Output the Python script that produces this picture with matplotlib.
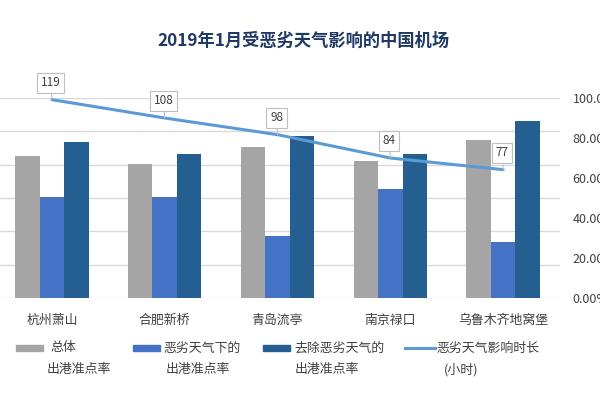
import matplotlib
matplotlib.use("Agg")
import matplotlib.pyplot as plt
from matplotlib.patches import Rectangle
from matplotlib.lines import Line2D
import numpy as np

plt.rcParams['font.family'] = ['Noto Sans CJK SC', 'DejaVu Sans']

airports = ['杭州萧山', '合肥新桥', '青岛流亭', '南京禄口', '乌鲁木齐地窝堡']
overall = [71.2, 66.8, 75.7, 68.7, 79.2]          # 总体出港准点率 %
bad_weather = [50.5, 50.5, 31.0, 54.5, 28.2]      # 恶劣天气下的出港准点率 %
excl_bad = [78.2, 71.8, 81.0, 71.8, 88.3]         # 去除恶劣天气的出港准点率 %
hours = [119, 108, 98, 84, 77]                    # 恶劣天气影响时长 (小时)
pct_ticks = [0, 20, 40, 60, 80, 100]
hour_ticks = [0, 20, 40, 60, 80, 100, 120]

legend_lines = [('总体', '出港准点率'), ('恶劣天气下的', '出港准点率'),
                ('去除恶劣天气的', '出港准点率'), ('恶劣天气影响时长', '(小时)')]
colors = ['#A5A5A5', '#4472C4', '#255E91']
line_color = '#5B9BD5'
text_color = '#404040'

W, H = 600, 400
rect = [-4.5 / W, 102 / H, 564 / W, 200 / H]
fig = plt.figure(figsize=(6, 4), dpi=100)

# background axes: gridlines of the (hidden) hours axis
ax_bg = fig.add_axes(rect)
ax_bg.set_ylim(0, 120)
ax_bg.set_yticks(hour_ticks)
ax_bg.set_xticks([])
ax_bg.tick_params(axis='y', length=0, labelleft=False)
ax_bg.grid(axis='y', color='#D9D9D9', lw=1)
for s in ax_bg.spines.values():
    s.set_visible(False)

# bars on the percent axis
ax = fig.add_axes(rect)
ax.patch.set_visible(False)
x = np.arange(len(airports))
w = 0.217
for k, vals in enumerate([overall, bad_weather, excl_bad]):
    ax.bar(x + (k - 1) * w, vals, w, color=colors[k], zorder=2)
ax.set_ylim(0, 100)
ax.set_xlim(-0.5, len(airports) - 0.5)
for s in ax.spines.values():
    s.set_visible(False)

# line on the hours axis, above the bars
ax2 = ax.twinx()
ax2.plot(x, hours, color=line_color, lw=2.2, zorder=3, solid_capstyle='round')
ax2.set_ylim(0, 120)
ax2.set_yticks([])
for s in ax2.spines.values():
    s.set_visible(False)

ax.set_yticks(pct_ticks)
ax.set_yticklabels([f'{t:.2f}%' for t in pct_ticks])
ax.yaxis.set_ticks_position('right')
ax.tick_params(axis='y', which='both', left=False, right=False, labelleft=False,
               labelright=True, length=0, pad=9.5, labelsize=9, labelcolor=text_color)
ax.set_xticks(x)
ax.set_xticklabels(airports)
ax.tick_params(axis='x', length=0, pad=11.5, labelsize=9.3, labelcolor=text_color)

for xi, v in zip(x, hours):
    ax2.annotate(str(v), xy=(xi, v), xytext=(-1, 17), textcoords='offset pixels',
                 ha='center', va='center', fontsize=8.5, color=text_color,
                 bbox=dict(boxstyle='square,pad=0.3', fc='white', ec='#BFBFBF', lw=0.8),
                 arrowprops=dict(arrowstyle='-', color='#BFBFBF', lw=0.8,
                                 shrinkA=0, shrinkB=0),
                 zorder=4)

fig.text(303.5 / W, 1 - 41 / H, '2019年1月受恶劣天气影响的中国机场',
         ha='center', va='center', fontsize=12.4, fontweight='bold', color='#1F3864')

# legend drawn by hand: handle on the first line, wrapped second line below
handle_x = [16, 133.3, 263.3, 405]
handle_w = [27, 27, 27, 30]
text_x = [50.7, 163.3, 294.3, 436]
text2_x = [46.7, 165.7, 295, 444.3]
row1, row2 = 348, 370
for i, (l1, l2) in enumerate(legend_lines):
    if i < 3:
        fig.patches.append(Rectangle((handle_x[i] / W, 1 - (row1 + 3) / H),
                                     handle_w[i] / W, 6 / H,
                                     transform=fig.transFigure, color=colors[i]))
    else:
        fig.lines.append(Line2D([handle_x[i] / W, (handle_x[i] + handle_w[i]) / W],
                                [1 - row1 / H, 1 - row1 / H], transform=fig.transFigure,
                                color=line_color, lw=2.2))
    fig.text(text_x[i] / W, 1 - row1 / H, l1, ha='left', va='center',
             fontsize=9.3, color=text_color)
    fig.text(text2_x[i] / W, 1 - row2 / H, l2, ha='left', va='center',
             fontsize=9.3, color=text_color)

fig.savefig('out.png', dpi=100)
